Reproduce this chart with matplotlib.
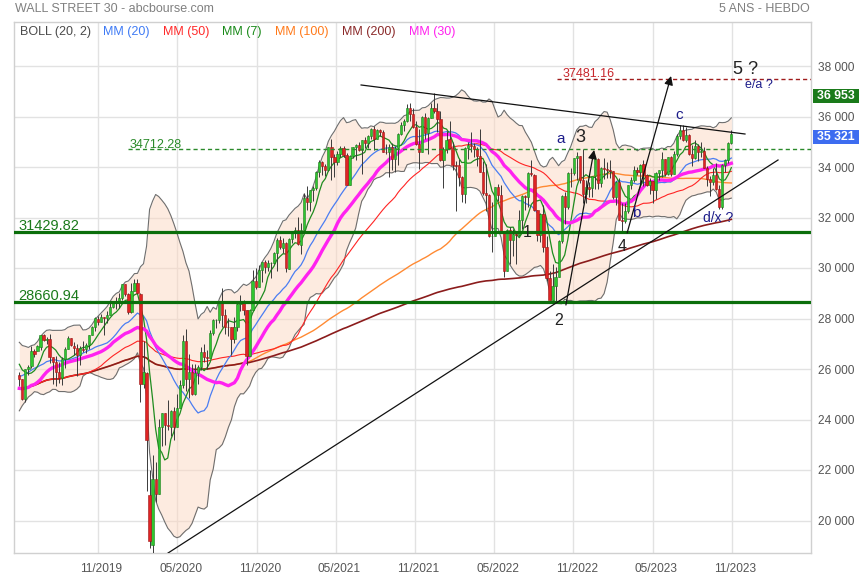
import numpy as np
import pandas as pd
import matplotlib
matplotlib.use("Agg")
import matplotlib.pyplot as plt
from matplotlib.patches import Rectangle
from matplotlib.transforms import ScaledTranslation

plt.rcParams['font.family'] = ['Liberation Sans', 'DejaVu Sans']

# ---------------- data (weekly, Wall Street 30) ----------------
# weeks before the visible window (only used by the moving averages)
pre_closes = [24286, 25538, 24389, 24100, 22445, 23062, 23433, 23996, 24706, 24737,
              25064, 25106, 25883, 26031, 26026, 25450, 25849, 25502, 25929, 26425,
              26412, 26560, 26543, 26505, 25942, 25764]

opens = [25780, 25590, 24820, 25990, 26110, 26730, 26720, 26880, 27330, 27160,
         27200, 26480, 26280, 25900, 25630, 26400, 26800, 27220, 26930, 26820,
         26570, 26810, 26780, 26960, 27360, 27680, 28000, 27880, 28050, 28010,
         28140, 28460, 28650, 28630, 28830, 29350, 28990, 28260, 29100, 29400,
         28990, 25410, 25860, 21000, 19030, 21640, 21050, 23720, 24240, 23780,
         23720, 24330, 23690, 24470, 25380, 27110, 25600, 25870, 25020, 25830,
         26080, 26670, 26470, 26430, 27430, 27930, 27930, 28650, 28130, 27670,
         27660, 27170, 27680, 28590, 28600, 28330, 26500, 28330, 29480, 29260,
         29910, 30220, 30050, 30180, 30200, 30610, 31100, 30810, 31000, 29980,
         31150, 31460, 31490, 30930, 31500, 32780, 32630, 33070, 33150, 33800,
         34200, 34040, 33870, 34780, 34380, 34210, 34530, 34760, 34480, 33290,
         34430, 34790, 34870, 34690, 35060, 34940, 35210, 35510, 35120, 35460,
         35370, 34610, 34580, 34800, 34330, 34750, 35300, 35680, 35820, 36330,
         36100, 35600, 34900, 34580, 35970, 35360, 35950, 36340, 36230, 35910,
         34260, 34720, 35090, 34740, 34080, 34060, 33610, 32940, 34760, 34860,
         34820, 34720, 34450, 33810, 32980, 32900, 31260, 31260, 33210, 32900,
         31390, 29890, 31500, 31100, 31340, 31290, 31900, 32840, 32800, 33760,
         33700, 32280, 31320, 32150, 30820, 29590, 28730, 29300, 29640, 31080,
         32860, 32400, 33750, 33750, 34350, 34430, 33480, 32920, 33200, 33150,
         33630, 34300, 33380, 33980, 33930, 33870, 33830, 32820, 33390, 31910,
         31860, 32240, 33270, 33480, 33890, 33810, 34100, 33670, 33300, 33430,
         33090, 33760, 33880, 34300, 33730, 34410, 33740, 34510, 35230, 35460,
         35070, 35280, 34500, 34350, 34840, 34580, 34620, 33960, 33510, 33410,
         33670, 33130, 32420, 34060, 34280, 34950]

highs = [25900, 25620, 26010, 26160, 26910, 26810, 26970, 27360, 27400, 27260,
         27400, 26490, 26520, 26280, 26460, 26860, 27310, 27230, 27080, 26990,
         26900, 27090, 27030, 27360, 27700, 28040, 28090, 28170, 28060, 28290,
         28610, 28700, 28870, 29000, 29380, 29370, 29010, 29410, 29570, 29570,
         29000, 27100, 25870, 22000, 22600, 22300, 24010, 24270, 24240, 24760,
         24370, 24500, 25000, 25580, 27340, 27580, 26610, 26200, 26200, 26150,
         26880, 27000, 26770, 27530, 28000, 28000, 28660, 29200, 28360, 28030,
         27660, 28050, 28610, 28950, 28720, 28330, 28390, 29930, 30000, 30120,
         30230, 30320, 30300, 30250, 30640, 31190, 31270, 31190, 31030, 31200,
         31470, 31640, 32010, 31800, 32960, 33230, 33100, 33260, 33840, 34260,
         34250, 34120, 34810, 35090, 34500, 34630, 34850, 34850, 34550, 34470,
         34790, 34900, 35000, 35080, 35170, 35280, 35530, 35630, 35510, 35520,
         35450, 34920, 34900, 34950, 34830, 35340, 35770, 35900, 36480, 36530,
         36330, 35810, 35500, 36020, 36140, 35970, 36530, 36950, 36520, 36230,
         34800, 35430, 35830, 34990, 34230, 34330, 33630, 34780, 35000, 35370,
         34960, 34780, 35490, 34250, 34120, 32940, 32630, 33220, 33310, 33270,
         31400, 31530, 31620, 31540, 31380, 32280, 32910, 32900, 33800, 34280,
         33710, 32290, 32170, 32510, 31250, 29890, 30140, 30040, 31100, 32890,
         33000, 33790, 33980, 34360, 34590, 34440, 34710, 33500, 33390, 33640,
         34350, 34340, 34000, 34340, 34210, 34290, 33840, 33450, 33570, 32560,
         32570, 33290, 33620, 34020, 34000, 34100, 34260, 33710, 33550, 33440,
         33800, 33900, 34590, 34330, 34410, 34450, 34650, 35290, 35680, 35680,
         35580, 35310, 34860, 35070, 34900, 34990, 34800, 34050, 33640, 33950,
         34150, 33300, 34100, 34300, 35000, 35450]

lows = [25330, 24760, 24680, 25780, 26050, 26470, 26700, 26770, 27090, 26990,
        26250, 25410, 25340, 25450, 25350, 26020, 26780, 26910, 26560, 25740,
        26170, 26690, 26630, 26790, 27350, 27500, 27730, 27860, 27330, 27840,
        28130, 28400, 28380, 28420, 28750, 28880, 28170, 28220, 29100, 28960,
        24680, 25230, 21150, 18920, 18210, 20730, 21050, 22940, 23000, 23600,
        23360, 23170, 23690, 24460, 25240, 25130, 24840, 24970, 24960, 25390,
        25960, 26260, 25990, 26420, 27350, 27620, 27820, 27660, 27370, 27300,
        26540, 27030, 27500, 28280, 28120, 26140, 26500, 28330, 29160, 29260,
        29460, 29800, 29870, 29600, 30140, 29880, 30760, 30610, 29860, 29980,
        31000, 31200, 30900, 30550, 31400, 32310, 32250, 32650, 33080, 33600,
        33670, 33660, 33850, 33470, 33600, 34060, 34390, 34400, 33270, 33270,
        34360, 34280, 34650, 33740, 34770, 34740, 35100, 34690, 35110, 35230,
        34600, 34510, 33610, 33900, 33800, 34080, 35260, 35410, 35800, 35820,
        35550, 34870, 33910, 34580, 35120, 34530, 35950, 36120, 35370, 34230,
        33150, 34570, 34700, 33870, 32270, 33250, 32630, 32580, 34300, 34610,
        34390, 34030, 33800, 32910, 32270, 31230, 30640, 31260, 32640, 31390,
        29650, 29890, 30140, 30480, 30140, 31260, 31530, 32300, 32400, 33630,
        32250, 31070, 31030, 30630, 29500, 28720, 28720, 28660, 29640, 31000,
        31730, 32350, 33200, 33670, 33480, 33380, 32570, 32580, 32810, 32810,
        33130, 33130, 33200, 33520, 33580, 33570, 32730, 32500, 31900, 31430,
        31800, 32180, 33130, 33400, 33680, 33230, 33240, 33260, 32930, 32590,
        32740, 33500, 33610, 33630, 33700, 33660, 33710, 34450, 35100, 35020,
        35000, 34470, 34030, 34300, 34250, 34410, 33960, 33230, 32850, 33280,
        33100, 32330, 32330, 33800, 34150, 34900]

closes = [25586, 24815, 25984, 26090, 26719, 26600, 26922, 27332, 27154, 27192,
          26485, 26287, 25886, 25629, 26403, 26797, 27220, 26935, 26820, 26573,
          26817, 26770, 26958, 27347, 27681, 28005, 27876, 28051, 28015, 28135,
          28455, 28645, 28634, 28824, 29348, 28990, 28256, 29103, 29398, 28992,
          25409, 25865, 23186, 19174, 21637, 21053, 23719, 24242, 23775, 23724,
          24331, 23685, 24465, 25383, 27111, 25606, 25871, 25016, 25827, 26075,
          26672, 26470, 26428, 27433, 27931, 27930, 28654, 28133, 27666, 27657,
          27174, 27683, 28587, 28606, 28336, 26502, 28323, 29480, 29263, 29910,
          30218, 30046, 30179, 30200, 30606, 31098, 30814, 30997, 29983, 31148,
          31458, 31494, 30932, 31496, 32779, 32628, 33073, 33153, 33801, 34200,
          34043, 33875, 34778, 34382, 34208, 34529, 34756, 34480, 33290, 34433,
          34786, 34870, 34687, 35062, 34935, 35209, 35515, 35120, 35456, 35369,
          34608, 34584, 34798, 34326, 34746, 35295, 35677, 35820, 36328, 36100,
          35602, 34899, 34580, 35971, 35365, 35951, 36338, 36231, 35912, 34265,
          34725, 35089, 34738, 34079, 34059, 33615, 32944, 34755, 34861, 34818,
          34721, 34451, 33811, 32977, 32899, 31262, 31262, 33213, 32900, 31393,
          29889, 31501, 31097, 31338, 31289, 31899, 32845, 32803, 33761, 33707,
          32283, 31318, 32152, 30822, 29590, 28726, 29297, 29635, 31083, 32862,
          32403, 33748, 33746, 34347, 34430, 33477, 32920, 33204, 33147, 33631,
          34303, 33375, 33978, 33926, 33869, 33827, 32817, 33391, 31910, 31862,
          32238, 33274, 33485, 33887, 33809, 34098, 33675, 33301, 33427, 33093,
          33763, 33877, 34299, 33727, 34408, 33735, 34509, 35228, 35459, 35066,
          35281, 34500, 34347, 34838, 34577, 34618, 33964, 33508, 33407, 33670,
          33127, 32418, 34061, 34283, 34947, 35321]

xtick_labels = ["11/2019", "05/2020", "11/2020", "05/2021", "11/2021",
                "05/2022", "11/2022", "05/2023", "11/2023"]
ytick_values = list(range(20000, 38001, 2000))

support_levels = [31429.82, 28660.94]
dashed_green_level = 34712.28
dashed_red_level = 37481.16
green_tag_text = "36 953"
last_tag_text = "35 321"

# user-drawn lines: (week index, price)
upper_line_w = [112.8, 239.5]
upper_line_p = [37248, 35307]
long_line_w = [49.1, 250.4]
long_line_p = [18713, 34277]
arrow_a = [(180.4, 28535), (189.7, 34674)]
arrow_b = [(200.6, 31387), (215.1, 37604)]
wave_labels = [("a", 178.8, 35109, '#1c1c8a', 11),
               ("3", 185.0, 35188, '#222222', 13),
               ("1", 167.6, 31387, '#222222', 11.5),
               ("2", 178.1, 27902, '#222222', 11.5),
               ("4", 198.9, 30832, '#222222', 11.5),
               ("b", 203.5, 32179, '#1c1c8a', 11),
               ("c", 217.7, 36060, '#1c1c8a', 11),
               ("5 ?", 239.8, 37842, '#222222', 13),
               ("e/a ?", 244.1, 37248, '#1c1c8a', 9),
               ("d/x ?", 230.6, 31981, '#1c1c8a', 10)]

# ---------------- indicators ----------------
n_pre = len(pre_closes)
full = pd.Series(pre_closes + closes, dtype=float)


def mov(n):
    return full.rolling(n, min_periods=1).mean().to_numpy()[n_pre:]


mid20 = full.rolling(20, min_periods=1).mean()
sd20 = full.rolling(20, min_periods=1).std(ddof=0).fillna(0)
bb_up = (mid20 + 2 * sd20).to_numpy()[n_pre:]
bb_lo = (mid20 - 2 * sd20).to_numpy()[n_pre:]

o = np.array(opens, float)
h = np.array(highs, float)
l = np.array(lows, float)
c = np.array(closes, float)
x = np.arange(len(c))

# ---------------- figure ----------------
W, H = 860, 580
fig = plt.figure(figsize=(W / 100, H / 100), dpi=100)
L, R, T, B = 14, 811, 22, 553
ax = fig.add_axes([L / W, 1 - B / H, (R - L) / W, (B - T) / H])
PX, X0 = 3.03, 19.3
ax.set_xlim((L - X0) / PX, (R - X0) / PX)


def py2v(y):
    return 38000 - (y - 66) * 2000 / 50.5


ax.set_ylim(py2v(B), py2v(T))
vpp = 2000 / 50.5  # value per pixel

# grid
grid_pos = [26 + 26.15 * k for k in range(len(xtick_labels))]
for gx in grid_pos:
    ax.axvline(gx, color='#e2e2e2', lw=1, zorder=0)
for yv in ytick_values:
    ax.axhline(yv, color='#e2e2e2', lw=1, zorder=0)

# Bollinger band
ax.fill_between(x, bb_lo, bb_up, color='#fcd8c2', alpha=0.5, lw=0, zorder=1)
ax.plot(x, bb_up, color='#6e6e6e', lw=0.8, zorder=2)
ax.plot(x, bb_lo, color='#6e6e6e', lw=0.8, zorder=2)

# moving averages
ax.plot(x, mov(100), color='#ff8a33', lw=1.0, zorder=3)
ax.plot(x, mov(200), color='#8b1c1c', lw=1.2, zorder=3)
ax.plot(x, mov(50), color='#ff2424', lw=0.8, zorder=3)
ax.plot(x, mov(20), color='#4a7df2', lw=0.9, zorder=3)
ax.plot(x, mov(7), color='#1f8c1f', lw=0.9, zorder=3)
ax.plot(x, mov(30), color='#ff22f0', lw=2.4, zorder=3.5)

# candles
up = c >= o
ax.vlines(x, l, h, color='#3a3a3a', lw=0.7, zorder=4)
ax.bar(x[up], (c - o)[up], bottom=o[up], width=0.74, color='#2fc62f',
       edgecolor='#1d7d1d', lw=0.4, zorder=5)
ax.bar(x[~up], (c - o)[~up], bottom=o[~up], width=0.74, color='#e02424',
       edgecolor='#991515', lw=0.4, zorder=5)

# horizontal user levels
for lv in support_levels:
    ax.axhline(lv, color='#0b6e0b', lw=2.3, zorder=6)
    ax.text((18 - X0) / PX, lv + 1.6 * vpp, f"{lv:.2f}", color='#1a7a1a',
            fontsize=10.5, va='baseline', ha='left', zorder=7)

xg0 = (128 - X0) / PX
ax.plot([xg0, ax.get_xlim()[1]], [dashed_green_level] * 2, color='#2b8a2b',
        lw=1.0, ls=(0, (3, 2.2)), zorder=6)
ax.text((130 - X0) / PX, dashed_green_level + 1.5 * vpp, f"{dashed_green_level:.2f}",
        color='#2a8a2a', fontsize=9, va='baseline', ha='left', zorder=7)

xr0 = (557 - X0) / PX
ax.plot([xr0, ax.get_xlim()[1]], [dashed_red_level] * 2, color='#a01c1c',
        lw=1.0, ls=(0, (3, 2.2)), zorder=6)
ax.text((563 - X0) / PX, dashed_red_level + 2.0 * vpp, f"{dashed_red_level:.2f}",
        color='#c8262c', fontsize=9, va='baseline', ha='left', zorder=7)

# trendlines
ax.plot(upper_line_w, upper_line_p, color='#111111', lw=0.9, zorder=6)
ax.plot(long_line_w, long_line_p, color='#111111', lw=0.9, zorder=6, clip_on=True)
for (sx, sy), (ex, ey) in (arrow_a, arrow_b):
    ax.annotate('', xy=(ex, ey), xytext=(sx, sy),
                arrowprops=dict(arrowstyle='-|>', color='#111111', lw=0.9,
                                mutation_scale=13, shrinkA=0, shrinkB=0),
                zorder=7)

for txt, wx, wp, col, fs in wave_labels:
    ax.text(wx, wp, txt, color=col, fontsize=fs, ha='center', va='center', zorder=8)

# axes style
for side in ['top', 'left', 'right', 'bottom']:
    ax.spines[side].set_color('#d0d0d0')
    ax.spines[side].set_linewidth(1)
ax.yaxis.tick_right()
ax.set_yticks(ytick_values)
ax.set_yticklabels([f"{v:,}".replace(",", " ") for v in ytick_values])
ax.tick_params(axis='y', length=0, pad=5, labelsize=8.6, labelcolor='#555555')
ax.set_xticks(grid_pos)
ax.set_xticklabels(xtick_labels)
ax.tick_params(axis='x', length=0, pad=7, labelsize=8.6, labelcolor='#555555')
off = ScaledTranslation(3.5 / 100, 0, fig.dpi_scale_trans)
for lab in ax.get_xticklabels():
    lab.set_transform(lab.get_transform() + off)


def fx(px):
    return px / W


def fy(py):
    return 1 - py / H


# header
fig.text(fx(15), fy(9), "WALL STREET 30 - abcbourse.com", color='#808080',
         fontsize=9, ha='left', va='center')
fig.text(fx(810), fy(9), "5 ANS - HEBDO", color='#808080', fontsize=9,
         ha='right', va='center')

legend_items = [("BOLL (20, 2)", 20, '#4a4a4a'), ("MM (20)", 103, '#3f7bf5'),
                ("MM (50)", 163, '#ff2a2a'), ("MM (7)", 222, '#1a8a1a'),
                ("MM (100)", 275, '#ff7a1a'), ("MM (200)", 342, '#8b2a2a'),
                ("MM (30)", 409, '#ff22ee')]
for txt, px, col in legend_items:
    fig.text(fx(px), fy(32), txt, color=col, fontsize=9, ha='left', va='center')

# right-side value tags
for txt, y0, y1, col in [(green_tag_text, 89, 103, '#1a7a1a'),
                         (last_tag_text, 130, 144, '#3d6cf0')]:
    fig.patches.append(Rectangle((fx(813), fy(y1)), (859 - 813) / W, (y1 - y0) / H,
                                 transform=fig.transFigure, facecolor=col,
                                 edgecolor='none', zorder=10))
    fig.text(fx(836), fy((y0 + y1) / 2), txt, color='white', fontsize=8.8,
             fontweight='bold', ha='center', va='center', zorder=11)

fig.savefig("out.png", dpi=100, facecolor='white')
